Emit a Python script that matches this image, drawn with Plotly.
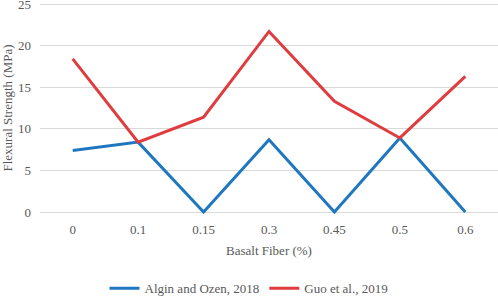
import plotly.graph_objects as go

categories = ["0", "0.1", "0.15", "0.3", "0.45", "0.5", "0.6"]
algin_ozen = [7.4, 8.4, 0, 8.7, 0, 8.9, 0]
guo = [18.4, 8.4, 11.4, 21.7, 13.3, 8.9, 16.3]
y_ticks = [0, 5, 10, 15, 20, 25]

font = dict(family="Liberation Serif, DejaVu Serif, serif", size=13, color="#595959")

fig = go.Figure()
fig.add_trace(go.Scatter(x=categories, y=algin_ozen, mode="lines", name="Algin and Ozen, 2018",
                         line=dict(color="#1F77C0", width=3)))
fig.add_trace(go.Scatter(x=categories, y=guo, mode="lines", name="Guo et al., 2019",
                         line=dict(color="#E03C3F", width=3)))

fig.update_layout(
    width=498, height=296,
    margin=dict(l=40, r=0, t=2, b=82, autoexpand=False),
    paper_bgcolor="white", plot_bgcolor="white",
    font=font,
    showlegend=True,
    legend=dict(orientation="h", xref="container", x=0.5, xanchor="center",
                y=-0.28, yanchor="top",
                font=dict(size=13, color="#595959"), itemwidth=30),
)
fig.update_xaxes(type="category", range=[-0.5, 6.5], showgrid=False, zeroline=False,
                 showline=False, ticks="", tickfont=font, ticklabelstandoff=6,
                 automargin=False,
                 title=dict(text="Basalt Fiber (%)", font=font, standoff=9))
fig.update_yaxes(range=[-0.24, 25.24], tickvals=y_ticks, showgrid=True, gridcolor="#D9D9D9",
                 gridwidth=1, zeroline=False, showline=False, ticks="", tickfont=font,
                 ticklabelstandoff=8, ticklabeloverflow="allow", automargin=False,
                 title=dict(text="Flexural Strength (MPa)", font=font, standoff=8))

fig.write_html("out.html", config={"displayModeBar": False},
               post_script="document.body.style.margin='0';")
